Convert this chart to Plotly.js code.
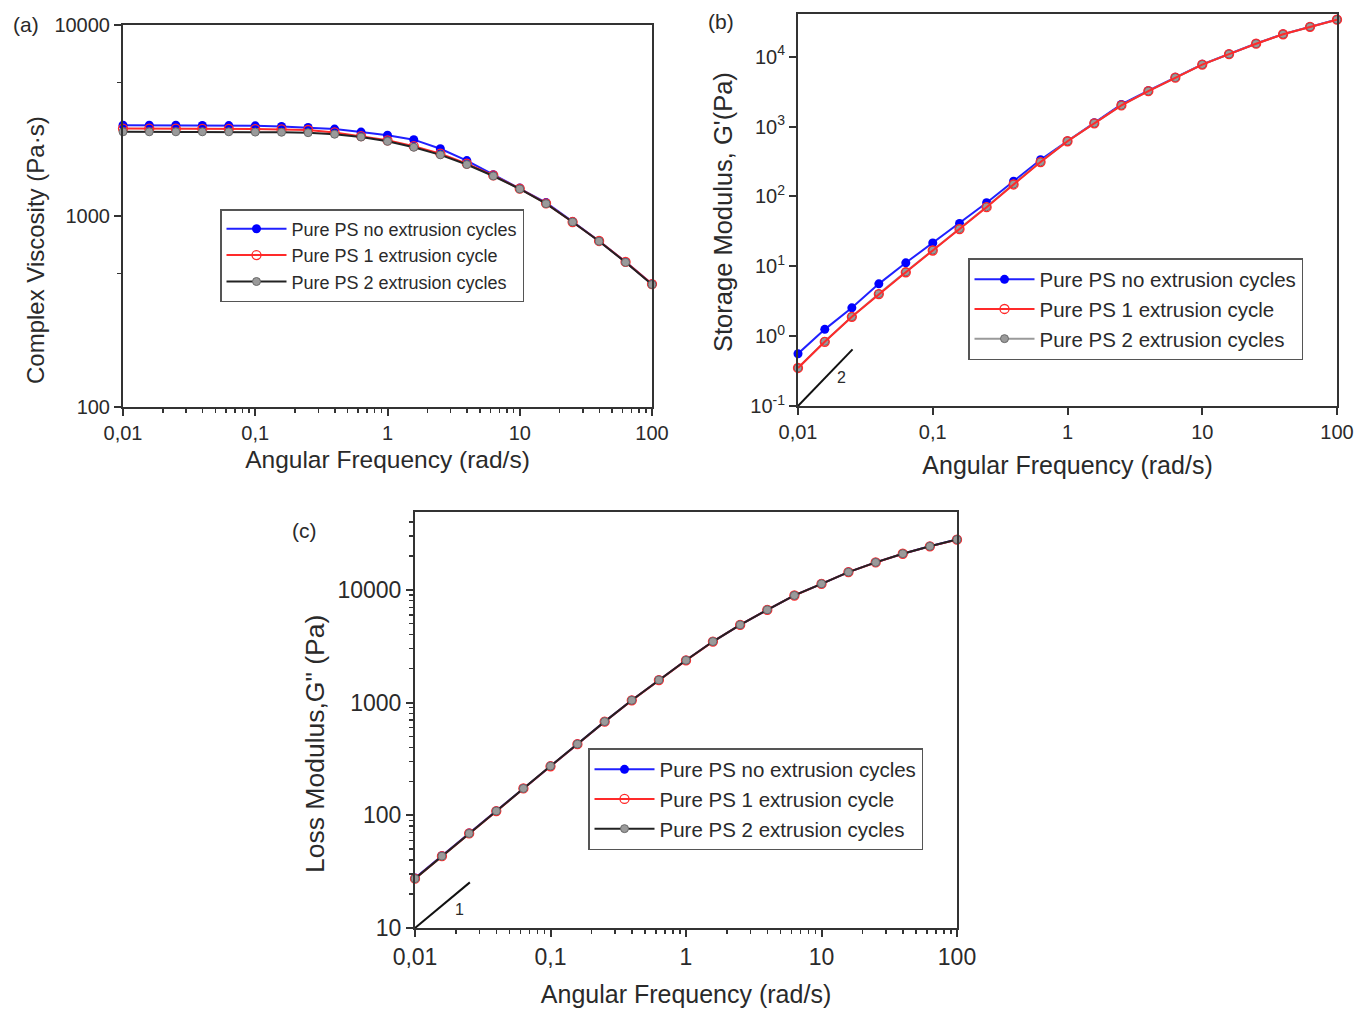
<!DOCTYPE html>
<html>
<head>
<meta charset="utf-8">
<script src="https://cdn.plot.ly/plotly-3.0.1.min.js"></script>
<style>html,body{margin:0;padding:0;background:#fff;}#chart{width:1357px;height:1010px;}</style>
</head>
<body>
<div id="chart"></div>
<script>
// ---------- data ----------
const freq = [0.01, 0.0158, 0.0251, 0.0398, 0.0631, 0.1, 0.158, 0.251, 0.398, 0.631, 1, 1.58, 2.51, 3.98, 6.31, 10, 15.8, 25.1, 39.8, 63.1, 100];

// (a) complex viscosity, Pa·s
const etaNone = [2990, 2990, 2985, 2980, 2975, 2965, 2945, 2910, 2850, 2750, 2650, 2510, 2250, 1950, 1645, 1400, 1175, 935, 740, 575, 440];
const eta1    = [2870, 2870, 2865, 2860, 2860, 2850, 2840, 2820, 2740, 2620, 2490, 2320, 2120, 1880, 1630, 1390, 1165, 930, 740, 575, 440];
const eta2    = [2760, 2760, 2760, 2760, 2760, 2750, 2745, 2730, 2680, 2590, 2460, 2290, 2090, 1860, 1620, 1385, 1160, 930, 738, 572, 438];

// (b) storage modulus G', Pa
const gpNone = [0.56, 1.25, 2.54, 5.6, 11.2, 21.5, 41, 81, 165, 335, 620, 1130, 2070, 3260, 5050, 7750, 10900, 15400, 21000, 26800, 34000];
const gp1    = [0.35, 0.83, 1.89, 4.0, 8.2, 16.8, 34, 70, 148, 310, 615, 1110, 2000, 3200, 5000, 7700, 10850, 15300, 20900, 26700, 33800];
const gp2    = [0.35, 0.84, 1.9, 4.05, 8.3, 17, 34.5, 71, 150, 312, 618, 1115, 2010, 3210, 5010, 7710, 10860, 15320, 20920, 26720, 33850];

// (c) loss modulus G'', Pa
const gppNone = [27.8, 43.8, 69.5, 109, 173, 273, 428, 677, 1047, 1585, 2370, 3475, 4890, 6640, 8910, 11300, 14350, 17500, 20900, 24300, 27900];
const gpp1    = [27.4, 43.4, 69, 109, 173, 272, 427, 676, 1045, 1583, 2365, 3470, 4880, 6630, 8900, 11280, 14330, 17480, 20880, 24280, 27850];
const gpp2    = [27.4, 43.4, 69, 109, 173, 273, 428, 677, 1047, 1585, 2370, 3475, 4890, 6640, 8910, 11300, 14350, 17500, 20900, 24300, 27900];

// slope guide lines
const slopeFreq = [0.01, 0.0254];
const slopeGp   = [0.1, 0.645];   // slope 2
const slopeGpp  = [10, 25.4];     // slope 1

const seriesNames = ['Pure PS no extrusion cycles', 'Pure PS 1 extrusion cycle', 'Pure PS 2 extrusion cycles'];
const xTickVals = [0.01, 0.1, 1, 10, 100];
const xTickText = ['0,01', '0,1', '1', '10', '100'];

// ---------- styles ----------
const FONT = 'Liberation Sans, Arial, sans-serif';
const TXT = '#2a2a2a';
const AX = '#333333';
const blueS = {line:{color:'#2020ff', width:2}, marker:{symbol:'circle', size:9, color:'#0000ff'}};
const redS  = {line:{color:'#ff2a2a', width:2}, marker:{symbol:'circle-open', size:9, color:'#ff2a2a', line:{width:1.3, color:'#ff2a2a'}}};
const blackS= {line:{color:'#222222', width:2}, marker:{symbol:'circle', size:8, color:'#9a9a9a', line:{color:'#6a6a6a', width:1}}};
const grayS = {line:{color:'#9a9a9a', width:2}, marker:{symbol:'circle', size:8, color:'#9a9a9a', line:{color:'#6a6a6a', width:1}}};

function tr(x, y, name, style, xa, ya, leg, rank){
  return {type:'scatter', mode:'lines+markers', x:x, y:y, name:name, xaxis:xa, yaxis:ya,
          legend:leg, legendrank:rank, line:style.line, marker:style.marker, cliponaxis:false};
}
const traces = [
  tr(freq, etaNone, seriesNames[0], blueS, 'x', 'y', 'legend', 1),
  tr(freq, eta1,    seriesNames[1], redS,  'x', 'y', 'legend', 2),
  tr(freq, eta2,    seriesNames[2], blackS,'x', 'y', 'legend', 3),

  tr(freq, gpNone, seriesNames[0], blueS, 'x2', 'y2', 'legend2', 1),
  tr(freq, gp2,    seriesNames[2], grayS, 'x2', 'y2', 'legend2', 3),
  tr(freq, gp1,    seriesNames[1], redS,  'x2', 'y2', 'legend2', 2),

  tr(freq, gppNone, seriesNames[0], blueS, 'x3', 'y3', 'legend3', 1),
  tr(freq, gpp1,    seriesNames[1], redS,  'x3', 'y3', 'legend3', 2),
  tr(freq, gpp2,    seriesNames[2], blackS,'x3', 'y3', 'legend3', 3),

  {type:'scatter', mode:'lines', x:slopeFreq, y:slopeGp, xaxis:'x2', yaxis:'y2', showlegend:false, line:{color:'#111', width:2}, hoverinfo:'skip'},
  {type:'scatter', mode:'lines', x:slopeFreq, y:slopeGpp, xaxis:'x3', yaxis:'y3', showlegend:false, line:{color:'#111', width:2}, hoverinfo:'skip'}
];

// minor tick positions (2..9 per decade)
function minorVals(lo, hi){ const v=[]; for(let e=lo;e<hi;e++){ for(let m=2;m<=9;m++){ v.push(m*Math.pow(10,e)); } } return v; }

const W = 1357, H = 1010;
const px = v => v / W;
const py = v => 1 - v / H;

function xax(d, minor, fs, tfs, standoff){
  const a = {type:'log', domain:[px(d[0]), px(d[1])], range:[-2, 2], tickmode:'array', tickvals:xTickVals, ticktext:xTickText,
    ticks:'outside', ticklen:7, tickwidth:2, tickcolor:AX, showline:true, linecolor:AX, linewidth:2, mirror:true,
    showgrid:false, zeroline:false, tickfont:{family:FONT, size:fs, color:TXT},
    title:{text:'Angular Frequency (rad/s)', font:{family:FONT, size:tfs, color:TXT}, standoff:standoff}};
  if(minor){ a.minor = {tickmode:'array', tickvals:minorVals(-2,2), ticks:'outside', ticklen:4, tickwidth:1.5, tickcolor:AX, showgrid:false}; }
  return a;
}
function yax(d, rng, tv, tt, fs, minor){
  const a = {type:'log', domain:[py(d[1]), py(d[0])], range:rng, tickmode:'array', tickvals:tv, ticktext:tt,
    ticks:'outside', ticklen:7, tickwidth:2, tickcolor:AX, showline:true, linecolor:AX, linewidth:2, mirror:true,
    showgrid:false, zeroline:false, tickfont:{family:FONT, size:fs, color:TXT}};
  if(minor){ a.minor = {tickmode:'array', tickvals:minor, ticks:'outside', ticklen:4, tickwidth:1.5, tickcolor:AX, showgrid:false}; }
  return a;
}
function note(text, x, y, size, angle){
  const a = {text:text, xref:'paper', yref:'paper', x:px(x), y:py(y), xanchor:'center', yanchor:'middle', showarrow:false,
             font:{family:FONT, size:size, color:TXT}};
  if(angle !== undefined) a.textangle = angle;
  return a;
}
function legendAt(x, y, fs){
  return {x:px(x), y:py(y), xanchor:'left', yanchor:'top', bgcolor:'#fff', bordercolor:'#555', borderwidth:1.5,
          font:{family:FONT, size:fs, color:TXT}, itemwidth:60, traceorder:'normal'};
}

const layout = {
  width:W, height:H, margin:{l:0, r:0, t:0, b:0}, paper_bgcolor:'#fff', plot_bgcolor:'#fff',
  font:{family:FONT, color:TXT},
  xaxis: Object.assign(xax([123, 652], true, 20, 24.5, 8), {anchor:'y'}),
  yaxis: Object.assign(yax([25, 407], [2, 4], [100, 1000, 10000], ['100', '1000', '10000'], 20, [500, 5000]), {anchor:'x'}),
  xaxis2: Object.assign(xax([798, 1337], false, 20, 25, 14), {anchor:'y2'}),
  yaxis2: Object.assign(yax([14, 406], [-1, 4.61], [0.1, 1, 10, 100, 1000, 10000],
           ['10<sup>-1</sup>', '10<sup>0</sup>', '10<sup>1</sup>', '10<sup>2</sup>', '10<sup>3</sup>', '10<sup>4</sup>'], 20, null), {anchor:'x2'}),
  xaxis3: Object.assign(xax([415, 957], true, 23, 25, 17), {anchor:'y3'}),
  yaxis3: Object.assign(yax([512, 928], [1, 4.69], [10, 100, 1000, 10000], ['10', '100', '1000', '10000'], 23, minorVals(1, 5).filter(v => v < 49000)), {anchor:'x3'}),
  legend: legendAt(220, 209, 18),
  legend2: legendAt(968, 258, 20.5),
  legend3: legendAt(588, 748, 20.5),
  annotations: [
    note('(a)', 26, 24, 21),
    note('(b)', 721, 21, 21),
    note('(c)', 304, 530, 21),
    note('Complex Viscosity (Pa·s)', 35, 250, 24, -90),
    note("Storage Modulus, G'(Pa)", 723, 212, 25.5, -90),
    note('Loss Modulus,G" (Pa)', 315, 744, 26.5, -90),
    {text:'2', xref:'x2', yref:'y2', x:Math.log10(0.0209), y:Math.log10(0.254), showarrow:false, font:{family:FONT, size:16, color:TXT}},
    {text:'1', xref:'x3', yref:'y3', x:Math.log10(0.0214), y:Math.log10(14.6), showarrow:false, font:{family:FONT, size:16, color:TXT}}
  ]
};

Plotly.newPlot('chart', traces, layout, {staticPlot:true, displayModeBar:false});
</script>
</body>
</html>
